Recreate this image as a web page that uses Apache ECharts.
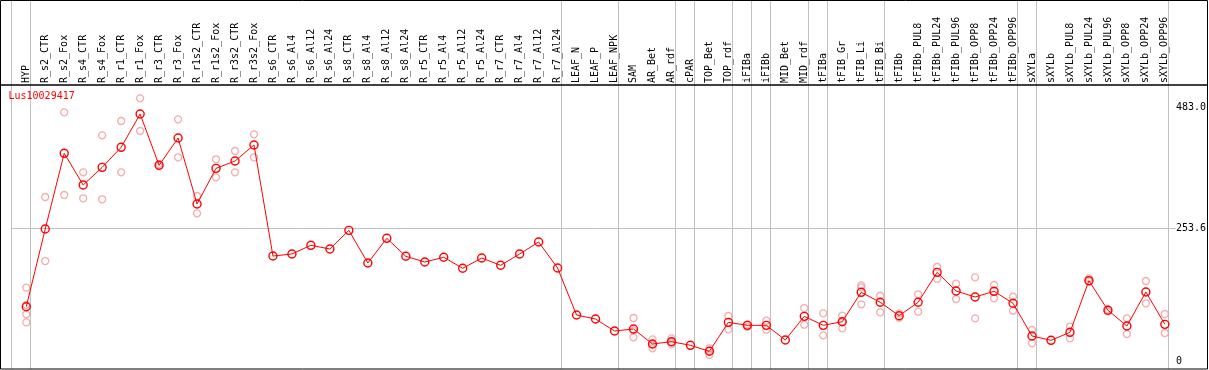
<!DOCTYPE html>
<html>
<head>
<meta charset="utf-8">
<script src="https://cdn.jsdelivr.net/npm/echarts@6/dist/echarts.min.js"></script>
<style>
html,body{margin:0;padding:0;background:#fff;}
#chart{width:1209px;height:370px;}
</style>
</head>
<body>
<div id="chart"></div>
<script>
const geneId = 'Lus10029417';
const categories = ['HYP','R_s2_CTR','R_s2_Fox','R_s4_CTR','R_s4_Fox','R_r1_CTR','R_r1_Fox','R_r3_CTR','R_r3_Fox','R_r1s2_CTR','R_r1s2_Fox','R_r3s2_CTR','R_r3s2_Fox','R_s6_CTR','R_s6_Al4','R_s6_Al12','R_s6_Al24','R_s8_CTR','R_s8_Al4','R_s8_Al12','R_s8_Al24','R_r5_CTR','R_r5_Al4','R_r5_Al12','R_r5_Al24','R_r7_CTR','R_r7_Al4','R_r7_Al12','R_r7_Al24','LEAF_N','LEAF_P','LEAF_NPK','SAM','AR_Bet','AR_rdf','cPAR','TOP_Bet','TOP_rdf','iFIBa','iFIBb','MID_Bet','MID_rdf','tFIBa','tFIB_Gr','tFIB_Li','tFIB_Bi','tFIBb','tFIBb_PUL8','tFIBb_PUL24','tFIBb_PUL96','tFIBb_OPP8','tFIBb_OPP24','tFIBb_OPP96','sXYLa','sXYLb','sXYLb_PUL8','sXYLb_PUL24','sXYLb_PUL96','sXYLb_OPP8','sXYLb_OPP24','sXYLb_OPP96'];
const means = [104.4,252.2,396.2,335.9,369.5,407.6,470.9,373.4,425.3,299.8,367.6,381.5,412.0,200.8,204.7,221.2,214.2,249.7,187.5,234.5,200.3,189.4,198.4,177.5,197.0,183.2,204.7,227.5,178.0,88.6,81.0,58.2,62.0,33.5,37.9,31.0,19.6,74.7,69.0,69.0,41.1,86.1,69.0,75.9,131.8,112.8,87.3,112.8,169.8,134.3,122.9,133.7,110.9,48.7,40.5,55.7,153.9,97.6,67.7,132.4,70.9];
const replicates = [
  [140.6,107.7,90.0,74.7],[313.1,191.3],[474.1,316.9],[360.0,310.6],[430.4,308.7],[457.6,360.0],[500.8,438.6],[375.5,371.5],[460.8,388.6],[315.0,282.0],[384.8,350.5],[400.6,360.0],[432.3,388.6],
  [],[],[],[],[],[],[],[],[],[],[],[],[],[],[],[],[],[],[],
  [82.9,58.8,46.2],[42.4,33.0,25.3],[44.3,37.0,32.9],[],[25.3,21.0,12.6],[86.7,61.4],[70.9,66.0],[77.8,60.7],[],[101.9,70.2],[91.8,50.0],[87.3,76.0,63.3],[145.1,141.0,109.0],[125.3,93.8],
  [91.8,83.5],[128.0,94.9],[179.9,157.7],[148.2,119.1],[160.3,82.3],[145.7,120.4],[123.4,96.8],
  [60.1,34.8],[],[66.4,44.3],[158.4,152.0],[99.5,95.5],[82.3,52.5],[153.3,110.9],[90.5,54.4]
];
const groupEnds = [-1,0,28,31,34,35,37,38,39,41,42,45,52,53,60];
const yTicks = [0, 253.6, 483.0];
const refLine = 253.6;

const mono = 'DejaVu Sans Mono';
const repData = [];
replicates.forEach((arr, i) => arr.forEach(v => repData.push([i, v])));
const meanData = means.map((v, i) => [i, v]);

const chart = echarts.init(document.getElementById('chart'), null, {renderer: 'canvas'});
chart.setOption({
  animation: false,
  backgroundColor: '#fff',
  title: {
    text: geneId, left: 8.5, top: 91.5, padding: 0,
    textStyle: {color: '#ff0000', fontFamily: mono, fontSize: 10, fontWeight: 'normal'}
  },
  grid: {left: 7.285, right: 3.8, top: 0, bottom: 1, containLabel: false},
  xAxis: {
    type: 'value', position: 'top', offset: -85,
    min: -1, max: 62, interval: 1,
    axisLine: {show: false}, axisTick: {show: false}, splitLine: {show: false},
    axisLabel: {
      rotate: 90, margin: 2, fontFamily: mono, fontSize: 10, color: '#000',
      showMinLabel: true, showMaxLabel: true,
      formatter: v => (categories[v] !== undefined ? categories[v] : '')
    }
  },
  yAxis: {
    type: 'value', position: 'right', offset: -26.9,
    min: -14.07, max: 687.8,
    axisLine: {show: false}, axisTick: {show: false}, splitLine: {show: false},
    axisLabel: {
      customValues: yTicks, margin: 0, fontFamily: mono, fontSize: 10, color: '#000',
      padding: [4, 0, 0, 0],
      formatter: v => (v === 0 ? '0' : v.toFixed(1))
    }
  },
  graphic: [
    {type: 'rect', z: 100, silent: true, shape: {x: 0.5, y: 0.5, width: 1207, height: 368.5},
     style: {fill: 'none', stroke: '#000', lineWidth: 1}},
    {type: 'line', z: 100, silent: true, shape: {x1: 0, y1: 85, x2: 1208, y2: 85},
     style: {stroke: '#000', lineWidth: 1.3}}
  ],
  series: [
    {
      type: 'scatter', z: 2, data: repData,
      symbol: 'circle', symbolSize: 7,
      itemStyle: {color: 'rgba(0,0,0,0)', borderColor: '#f09898', borderWidth: 1.3},
      markLine: {
        silent: true, symbol: 'none', z: 1,
        lineStyle: {color: '#c0c0c0', width: 1, type: 'solid'},
        label: {show: false},
        data: groupEnds.map(i => ({xAxis: i + 0.2})).concat([
          [{coord: [-0.8, refLine]}, {coord: [60.57, refLine]}]
        ])
      }
    },
    {
      type: 'line', z: 3, data: meanData,
      symbol: 'circle', symbolSize: 8, showSymbol: true,
      lineStyle: {color: '#ff0000', width: 1},
      itemStyle: {color: 'rgba(0,0,0,0)', borderColor: '#ff0000', borderWidth: 1.4}
    }
  ]
});
</script>
</body>
</html>
